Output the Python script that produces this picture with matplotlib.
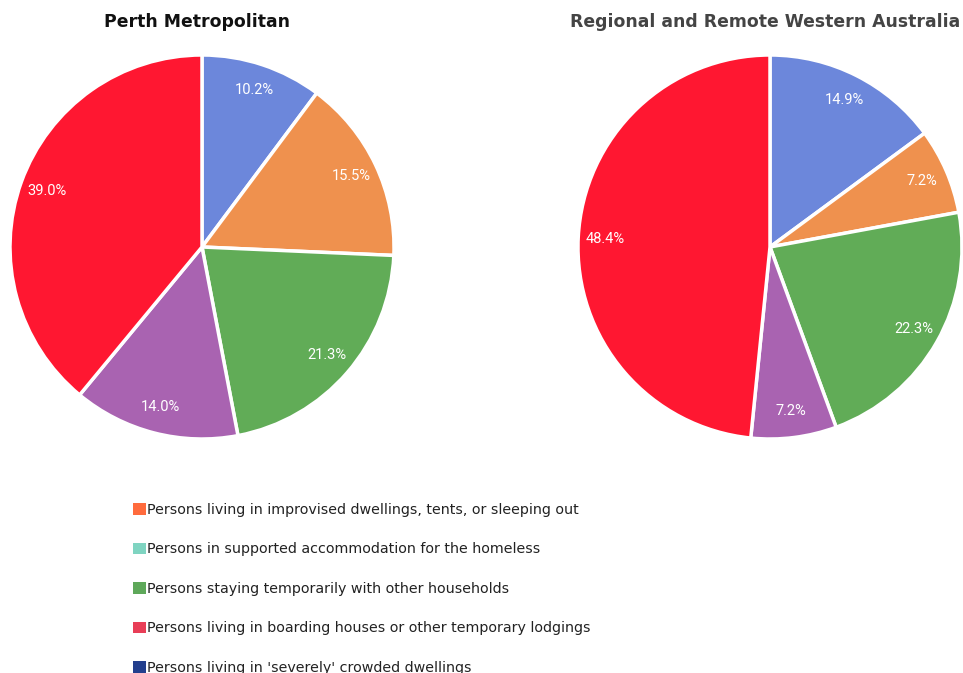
import matplotlib
matplotlib.use("Agg")
import matplotlib.pyplot as plt
from matplotlib.patches import Patch

# slice order: clockwise from 12 o'clock
slice_colors = ["#6C87DB", "#EF914E", "#61AC57", "#A963B1", "#FF1731"]
perth_values = [10.2, 15.5, 21.3, 14.0, 39.0]
regional_values = [14.9, 7.2, 22.3, 7.2, 48.4]

titles = ["Perth Metropolitan", "Regional and Remote Western Australia"]
title_colors = ["#111111", "#444444"]

legend_labels = [
    "Persons living in improvised dwellings, tents, or sleeping out",
    "Persons in supported accommodation for the homeless",
    "Persons staying temporarily with other households",
    "Persons living in boarding houses or other temporary lodgings",
    "Persons living in 'severely' crowded dwellings",
]
legend_colors = ["#FF6B3D", "#7FD4C1", "#5EA85A", "#E83E57", "#233F8D"]

W, H = 963, 673
fig = plt.figure(figsize=(W / 100, H / 100), dpi=100)


def px_axes(x, y, w, h):
    # pixel box (top-left origin) -> figure fraction
    return fig.add_axes([x / W, 1 - (y + h) / H, w / W, h / H])


boxes = [(10, 55, 384, 384), (578, 55, 384, 384)]
title_x = [197, 765]
for box, vals, title, tcol, tx in zip(boxes, [perth_values, regional_values],
                                      titles, title_colors, title_x):
    ax = px_axes(*box)
    wedges, _, autotexts = ax.pie(
        vals, colors=slice_colors, startangle=90, counterclock=False,
        autopct="%.1f%%", pctdistance=0.86,
        wedgeprops=dict(edgecolor="white", linewidth=2.5),
        textprops=dict(color="white", fontsize=10.5, family="Roboto"),
    )
    for w in wedges:
        w.set_clip_on(False)
    ax.set_xlim(-1, 1)
    ax.set_ylim(-1, 1)
    ax.set_aspect("equal")
    ax.axis("off")
    fig.text(tx / W, 1 - 22 / H, title, ha="center", va="center",
             fontsize=12.4, fontweight="bold", color=tcol, family="DejaVu Sans")

handles = [Patch(facecolor=c, edgecolor="none") for c in legend_colors]
fig.legend(handles, legend_labels, loc="upper left",
           bbox_to_anchor=(133 / W, 1 - 503 / H), frameon=False,
           fontsize=10.3, handlelength=0.9, handleheight=0.9, handletextpad=0.1,
           labelspacing=1.78, borderaxespad=0, borderpad=0,
           labelcolor="#222222")

fig.savefig("out.png", dpi=100)
